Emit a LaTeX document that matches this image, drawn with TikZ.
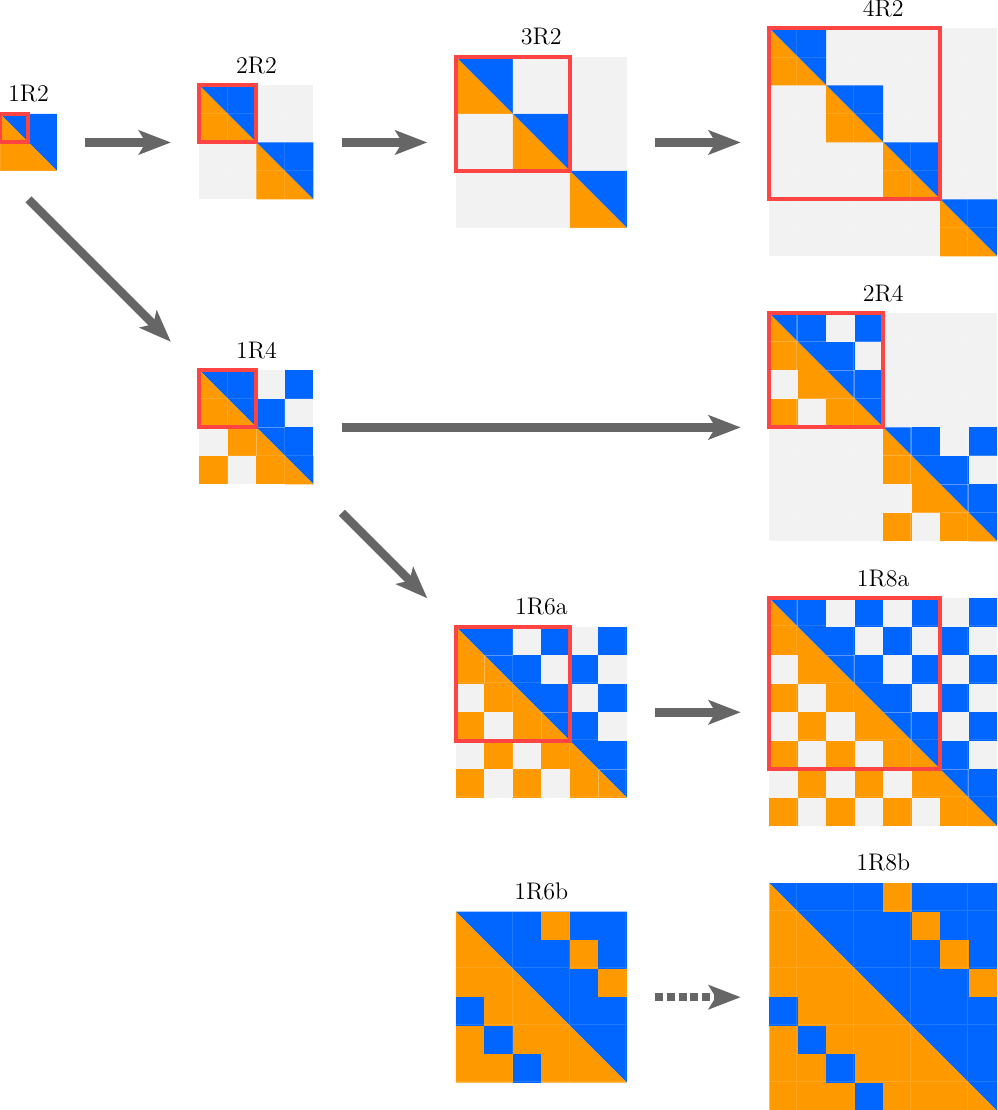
\documentclass[tikz,border=0pt]{standalone}
\usepackage{fontspec}
\usetikzlibrary{arrows.meta}
\definecolor{cblue}{HTML}{0066FF}
\definecolor{corange}{HTML}{FF9900}
\definecolor{cgray}{HTML}{F2F2F2}
\definecolor{cred}{HTML}{FF4444}
\definecolor{carrow}{HTML}{666666}
\newcommand{\dcell}[2]{%
  \fill[cblue] (#1,#2) -- (#1+1,#2) -- (#1+1,#2+1) -- cycle;
  \fill[corange] (#1,#2) -- (#1,#2+1) -- (#1+1,#2+1) -- cycle;}
\newcommand{\rtwo}[3]{% ox oy k
  \fill[cgray] (#1,#2) rectangle ++(2*#3,2*#3);
  \foreach \b in {1,...,#3}{%
    \pgfmathsetmacro\bx{#1+2*\b-2}\pgfmathsetmacro\by{#2+2*\b-2}%
    \fill[cblue] (\bx,\by) -- ++(2,0) -- ++(0,2) -- cycle;
    \fill[corange] (\bx,\by) -- ++(0,2) -- ++(2,0) -- cycle;}%
  \draw[seam] (#1,#2) grid ++(2*#3,2*#3);}
\newcommand{\chk}[3]{% ox oy n
  \fill[cgray] (#1,#2) rectangle ++(#3,#3);
  \foreach \i in {1,...,#3}{\foreach \j in {1,...,#3}{%
    \pgfmathtruncatemacro\dd{\j-\i}%
    \ifnum\dd=0\relax
      \dcell{#1+\j-1}{#2+\i-1}%
    \else
      \ifodd\dd\relax
        \ifnum\dd>0\relax
          \fill[cblue] (#1+\j-1,#2+\i-1) rectangle ++(1,1);
        \else
          \fill[corange] (#1+\j-1,#2+\i-1) rectangle ++(1,1);
        \fi
      \fi
    \fi}}%
  \draw[seam] (#1,#2) grid ++(#3,#3);}
\newcommand{\swp}[4]{% ox oy n half
  \fill[cblue] (#1,#2) -- ++(#3,0) -- ++(0,#3) -- cycle;
  \fill[corange] (#1,#2) -- ++(0,#3) -- ++(#3,0) -- cycle;
  \pgfmathtruncatemacro\mm{#4-1}%
  \foreach \r in {0,...,\mm}{%
    \fill[corange] (#1+\r+#4,#2+\r) rectangle ++(1,1);
    \fill[cblue] (#1+\r,#2+\r+#4) rectangle ++(1,1);}%
  \draw[seam] (#1,#2) grid ++(#3,#3);}
\begin{document}
\begin{tikzpicture}[x=14.25pt,y=-14.25pt,
  seam/.style={draw=white,opacity=0.12,line width=0.3pt},
  redbox/.style={draw=cred,line width=2pt},
  lbl/.style={anchor=base,inner sep=0pt,font=\fontsize{12}{14}\selectfont},
  arr/.style={draw=carrow,line width=4.25pt,-{Stealth[length=16pt,width=12pt,inset=3.5pt]}},
  darr/.style={arr,dash pattern=on 4pt off 1.85pt}]
\useasboundingbox (0,0) rectangle (35,38.96);
% matrices
\rtwo{0}{4}{1}
\rtwo{7}{3}{2}
\rtwo{16}{2}{3}
\rtwo{27}{1}{4}
\chk{7}{13}{4}
\fill[cgray] (27,11) rectangle ++(8,8);
\chk{27}{11}{4}
\chk{31}{15}{4}
\draw[seam] (27,11) grid ++(8,8);
\chk{16}{22}{6}
\chk{27}{21}{8}
\swp{16}{32}{6}{3}
\swp{27}{31}{8}{4}
% red boxes
\draw[redbox] (0,4) rectangle (1,5);
\draw[redbox] (7,3) rectangle (9,5);
\draw[redbox] (16,2) rectangle (20,6);
\draw[redbox] (27,1) rectangle (33,7);
\draw[redbox] (7,13) rectangle (9,15);
\draw[redbox] (27,11) rectangle (31,15);
\draw[redbox] (16,22) rectangle (20,26);
\draw[redbox] (27,21) rectangle (33,27);
% labels
\node[lbl] (l1r2) at (1,3.57) {1R2};
\node[lbl] (l2r2) at (9,2.57) {2R2};
\node[lbl] (l3r2) at (19,1.57) {3R2};
\node[lbl] (l4r2) at (31,0.57) {4R2};
\node[lbl] (l1r4) at (9,12.57) {1R4};
\node[lbl] (l2r4) at (31,10.57) {2R4};
\node[lbl] (l1r6a) at (19,21.57) {1R6a};
\node[lbl] (l1r8a) at (31,20.57) {1R8a};
\node[lbl] (l1r6b) at (19,31.57) {1R6b};
\node[lbl] (l1r8b) at (31,30.57) {1R8b};
% arrow ends
\coordinate (a1s) at (3,5);   \coordinate (a1e) at (6,5);
\coordinate (a2s) at (12,5);  \coordinate (a2e) at (15,5);
\coordinate (a3s) at (23,5);  \coordinate (a3e) at (26,5);
\coordinate (a4s) at (1,7);   \coordinate (a4e) at (6,12);
\coordinate (a5s) at (12,15); \coordinate (a5e) at (26,15);
\coordinate (a6s) at (12,18); \coordinate (a6e) at (15,21);
\coordinate (a7s) at (23,25); \coordinate (a7e) at (26,25);
\coordinate (a8s) at (23,35); \coordinate (a8e) at (26,35);
\draw[arr] (a1s) -- (a1e);
\draw[arr] (a2s) -- (a2e);
\draw[arr] (a3s) -- (a3e);
\draw[arr] (a4s) -- (a4e);
\draw[arr] (a5s) -- (a5e);
\draw[arr] (a6s) -- (a6e);
\draw[arr] (a7s) -- (a7e);
\draw[darr] (a8s) -- (a8e);
\end{tikzpicture}
\end{document}
